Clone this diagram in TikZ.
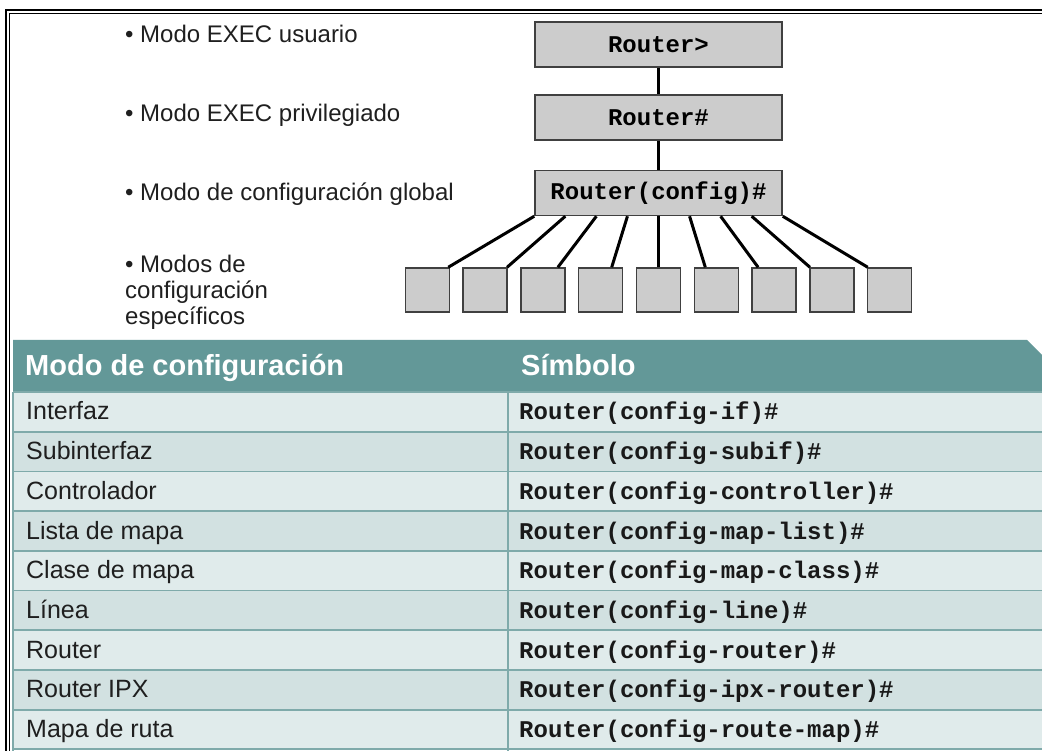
\documentclass[tikz,border=0pt]{standalone}
\usepackage{fontspec}
\setmainfont{Liberation Sans}
\setmonofont{Liberation Mono}
\usepackage{tikz}
\usetikzlibrary{calc}
\usepackage{xcolor}
\definecolor{boxgray}{HTML}{CCCCCC}
\definecolor{tealhead}{HTML}{639898}
\definecolor{rowlight}{HTML}{E0EBEB}
\definecolor{rowdark}{HTML}{D2E1E1}
\definecolor{rowline}{HTML}{7FAAAA}

\begin{document}
\begin{tikzpicture}[x=1pt,y=-1pt,
  modebox/.style={draw=black!75,fill=boxgray,line width=1.5pt,minimum width=247pt,minimum height=45pt,inner sep=0pt,font=\fontsize{24}{26}\selectfont\ttfamily\bfseries},
  subbox/.style={draw=black!75,fill=boxgray,line width=1.5pt,minimum size=44pt,inner sep=0pt},
  fan/.style={line width=3pt},
  lbl/.style={anchor=base west,inner sep=0pt,text=black!88,font=\fontsize{24}{26}\selectfont},
  headtxt/.style={anchor=base west,inner sep=0pt,text=white,font=\fontsize{29}{30}\selectfont\bfseries},
  rowtxt/.style={anchor=base west,inner sep=0pt,text=black!88,font=\fontsize{25}{26}\selectfont},
  cmdtxt/.style={anchor=base west,inner sep=0pt,text=black!90,font=\fontsize{24}{26}\selectfont\ttfamily\bfseries},
  grid/.style={rowline,line width=1.8pt}]
\useasboundingbox (0,0) rectangle (1042,751);
% double frame
\draw[line width=1.8pt] (5.8,751) -- (5.8,10.2) -- (1042,10.2);
\draw[line width=1.1pt] (9.8,751) -- (9.8,13.2) -- (1042,13.2);

% mode labels
\node[lbl] (t1) at (125,43) {\textbullet\ Modo EXEC usuario};
\node[lbl] (t2) at (125,122) {\textbullet\ Modo EXEC privilegiado};
\node[lbl] (t3) at (125,201) {\textbullet\ Modo de configuración global};
\node[lbl,align=left] (t4) at (125,325) {\textbullet\ Modos de\\configuración\\específicos};

% hierarchy
\node[modebox] (usr) at (658.5,44.5) {Router>};
\node[modebox] (priv) at (658.5,117.5) {Router\#};
\node[modebox] (cfg) at (658.5,193) {Router(config)\#};
\draw[fan] (usr) -- (priv);
\draw[fan] (priv) -- (cfg);
\foreach \i in {1,...,9}
  \node[subbox] (s\i) at ({658.5+(\i-5)*57.8},290) {};
\foreach \i/\dx in {1/21,2/22,3/15,4/11,5/0,6/-11,7/-16,8/-22,9/-22}
  \draw[fan] ($(cfg.south west)!{(\i-1)/8}!(cfg.south east)$) -- ([xshift=\dx pt]s\i.north);

% table
\fill[tealhead] (13,340) -- (1027,340) -- (1042,355) -- (1042,392) -- (13,392) -- cycle;
\node[headtxt] (h1) at (25,376) {Modo de configuración};
\node[headtxt] (h2) at (521,376) {Símbolo};
\foreach \mode/\cmd [count=\i] in {Interfaz/config-if,Subinterfaz/config-subif,
    Controlador/config-controller,Lista de mapa/config-map-list,Clase de mapa/config-map-class,
    Línea/config-line,Router/config-router,Router IPX/config-ipx-router,Mapa de ruta/config-route-map}{
  \ifodd\i\def\rowcol{rowlight}\else\def\rowcol{rowdark}\fi
  \pgfmathsetmacro\rtop{392+(\i-1)*39.7}
  \fill[\rowcol] (13,\rtop) rectangle (1042,{\rtop+39.7});
  \node[rowtxt] (m\i) at (26,{\rtop+28}) {\mode};
  \node[cmdtxt] (c\i) at (519,{\rtop+28}) {Router(\cmd)\#};
}
\foreach \i in {0,...,9}
  \draw[grid] (13,{392+\i*39.7}) -- (1042,{392+\i*39.7});
\draw[grid] (13,392) -- (13,751);
\draw[grid] (508,392) -- (508,751);
\end{tikzpicture}
\end{document}
